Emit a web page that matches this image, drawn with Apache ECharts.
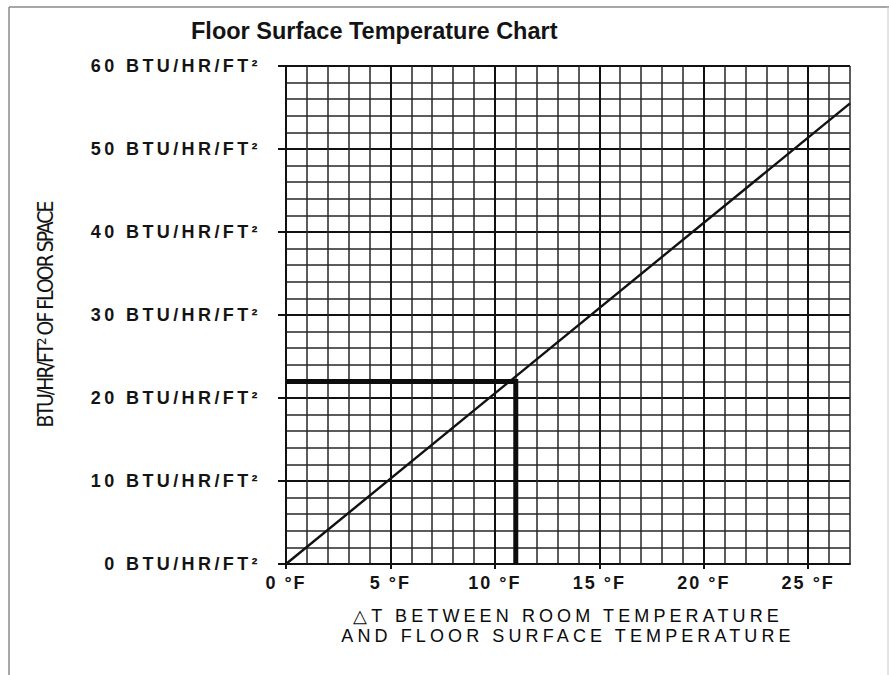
<!DOCTYPE html>
<html>
<head>
<meta charset="utf-8">
<title>Floor Surface Temperature Chart</title>
<script src="https://cdn.jsdelivr.net/npm/echarts@6/dist/echarts.min.js"></script>
<style>
  html, body { margin: 0; padding: 0; background: #fff; }
  #chart { width: 889px; height: 675px; }
  /* wide lettering of the printed chart */
  #chart text[style*="wideY"], #chart text[font-family*="wideY"] { letter-spacing: 3.4px; }
  #chart text[style*="wideX"], #chart text[font-family*="wideX"] { letter-spacing: 2px; }
  #chart text[style*="wideN"], #chart text[font-family*="wideN"] { letter-spacing: 4.1px; }
  #chart text[style*="narrowN"], #chart text[font-family*="narrowN"] { letter-spacing: -2px; }
</style>
</head>
<body>
<div id="chart"></div>
<script>
  const xMajor = [0, 5, 10, 15, 20, 25]
  const yMajor = [0, 10, 20, 30, 40, 50, 60]
  // heat output line
  const lineX = [0, 27]
  const lineY = [0, 55.5]
  // example reading: 11 °F -> 22 BTU
  const readX = [0, 11, 11]
  const readY = [22, 22, 0]

  const chart = echarts.init(document.getElementById('chart'), null, { renderer: 'svg' })

  const gridColor = '#262626'
  const majorColor = '#111'

  const option = {
    animation: false,
    backgroundColor: '#fff',
    title: {
      text: 'Floor Surface Temperature Chart',
      left: 186,
      top: 14,
      textStyle: {
        fontFamily: 'Liberation Sans, Arial, sans-serif',
        fontSize: 23.5,
        fontWeight: 'bold',
        color: '#141414'
      }
    },
    graphic: [
      { type: 'line', shape: { x1: 9, y1: 7, x2: 889, y2: 7 }, style: { stroke: '#8a8a8a', lineWidth: 1.5 } },
      { type: 'line', shape: { x1: 9, y1: 7, x2: 9, y2: 675 }, style: { stroke: '#8a8a8a', lineWidth: 1.5 } },
      { type: 'line', shape: { x1: 888, y1: 7, x2: 888, y2: 675 }, style: { stroke: '#c8c8c8', lineWidth: 1 } }
    ],
    grid: { left: 286, right: 39, top: 66, bottom: 111 },
    xAxis: [
      {
        type: 'value', min: 0, max: 27, interval: 1, position: 'bottom',
        axisLine: { show: true, onZero: false, lineStyle: { color: majorColor, width: 2 } },
        axisTick: { show: false },
        axisLabel: { show: false },
        splitLine: { show: true, lineStyle: { color: gridColor, width: 1.5 } }
      },
      {
        type: 'value', min: 0, max: 27, interval: 5, position: 'bottom',
        axisLine: { show: false, onZero: false },
        axisTick: { show: true, customValues: xMajor, length: 5, lineStyle: { color: majorColor, width: 2 } },
        axisLabel: {
          customValues: xMajor,
          formatter: v => v + ' °F',
          margin: 10,
          fontFamily: 'Liberation Sans, Arial, wideX',
          fontSize: 18,
          fontWeight: 'bold',
          color: '#141414'
        },
        splitLine: { show: true, lineStyle: { color: majorColor, width: 2 } },
        name: '△T BETWEEN ROOM TEMPERATURE\nAND FLOOR SURFACE TEMPERATURE',
        nameLocation: 'middle',
        nameGap: 42,
        nameTextStyle: {
          fontFamily: 'Liberation Sans, Arial, wideN',
          fontSize: 18,
          lineHeight: 20,
          color: '#0a0a0a'
        }
      }
    ],
    yAxis: [
      {
        type: 'value', min: 0, max: 60, interval: 2, position: 'left',
        axisLine: { show: true, onZero: false, lineStyle: { color: majorColor, width: 2 } },
        axisTick: { show: false },
        axisLabel: { show: false },
        splitLine: { show: true, lineStyle: { color: gridColor, width: 1.5 } }
      },
      {
        type: 'value', min: 0, max: 60, interval: 10, position: 'left',
        axisLine: { show: false, onZero: false },
        axisTick: { show: true, customValues: yMajor, length: 8, lineStyle: { color: majorColor, width: 2 } },
        axisLabel: {
          customValues: yMajor,
          formatter: v => v + ' BTU/HR/FT²',
          margin: 25,
          fontFamily: 'Liberation Sans, Arial, wideY',
          fontSize: 18,
          fontWeight: 'bold',
          color: '#141414'
        },
        splitLine: { show: true, lineStyle: { color: majorColor, width: 2 } },
        name: 'BTU/HR/FT² OF FLOOR SPACE',
        nameLocation: 'middle',
        nameGap: 230,
        nameTextStyle: {
          fontFamily: 'Liberation Sans Narrow, DejaVu Sans Condensed, narrowN, sans-serif',
          fontSize: 21,
          color: '#141414'
        }
      }
    ],
    series: [
      {
        type: 'line',
        xAxisIndex: 0,
        yAxisIndex: 0,
        data: lineX.map((x, i) => [x, lineY[i]]),
        showSymbol: false,
        lineStyle: { color: '#111', width: 2.4 },
        z: 3
      },
      {
        type: 'line',
        xAxisIndex: 0,
        yAxisIndex: 0,
        data: readX.map((x, i) => [x, readY[i]]),
        showSymbol: false,
        lineStyle: { color: '#0d0d0d', width: 5, cap: 'butt', join: 'miter' },
        z: 4
      }
    ]
  }

  chart.setOption(option)
</script>
</body>
</html>
